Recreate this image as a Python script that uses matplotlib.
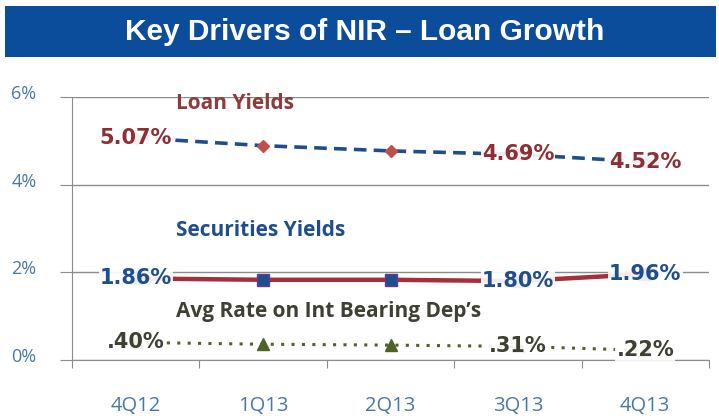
import matplotlib
matplotlib.use("Agg")
import matplotlib.pyplot as plt
from matplotlib.patches import Rectangle
from matplotlib.transforms import ScaledTranslation

# --- data ------------------------------------------------------------------
quarters = ["4Q12", "1Q13", "2Q13", "3Q13", "4Q13"]
loan_yields = [5.07, 4.89, 4.77, 4.69, 4.52]
securities_yields = [1.86, 1.83, 1.83, 1.80, 1.96]
deposit_rates = [0.40, 0.36, 0.34, 0.31, 0.22]

loan_labels = {0: "5.07%", 3: "4.69%", 4: "4.52%"}
securities_labels = {0: "1.86%", 3: "1.80%", 4: "1.96%"}
deposit_labels = {0: ".40%", 3: ".31%", 4: ".22%"}

yticks = [0, 2, 4, 6]
ytick_labels = ["0%", "2%", "4%", "6%"]

# --- palette ---------------------------------------------------------------
BANNER = "#0b4d9a"
NAVY = "#1f4e8c"
BRICK = "#a3303a"
DIAMOND = "#c0504d"
OLIVE = "#4f6228"
GRID = "#8c8c8c"
TICK_TEXT = "#4a78a6"
DEP_TEXT = "#3f3f34"

W, H = 719, 420
fig = plt.figure(figsize=(W / 100, H / 100), dpi=100)
fig.patch.set_facecolor("white")

# title banner
fig.patches.append(Rectangle((5 / W, 1 - 57 / H), 711 / W, 51 / H,
                             transform=fig.transFigure, facecolor=BANNER,
                             edgecolor="none", zorder=0))
fig.text(365 / W, 1 - 32 / H, "Key Drivers of NIR \u2013 Loan Growth",
         ha="center", va="center", color="white", fontsize=21.5,
         fontweight="bold", family=["Liberation Sans", "DejaVu Sans"])

ax = fig.add_axes([72 / W, 60 / H, (709 - 72) / W, (360 - 97) / H])
xs = [i + 0.5 for i in range(len(quarters))]
ax.set_xlim(0, len(quarters))
ax.set_ylim(0, 6)

ax.plot(xs, loan_yields, color=NAVY, linewidth=2.6, linestyle=(0, (3.5, 2)),
        marker="D", markersize=6.5, markerfacecolor=DIAMOND,
        markeredgecolor=DIAMOND, zorder=3)
ax.plot(xs, securities_yields, color=BRICK, linewidth=3.2,
        marker="s", markersize=9, markerfacecolor=NAVY,
        markeredgecolor="#6a3a8a", markeredgewidth=1, zorder=3)
ax.plot(xs, deposit_rates, color=OLIVE, linewidth=2.2, linestyle=(0, (1, 2.4)),
        marker="^", markersize=8, markerfacecolor=OLIVE,
        markeredgecolor=OLIVE, zorder=3)

label_box = dict(boxstyle="square,pad=0.05", facecolor="white",
                 edgecolor="none", alpha=0.9)
for series, labels, color in [(loan_yields, loan_labels, "#8e2f33"),
                              (securities_yields, securities_labels, NAVY),
                              (deposit_rates, deposit_labels, DEP_TEXT)]:
    for i, text in labels.items():
        ax.text(xs[i], series[i], text, ha="center", va="center",
                color=color, fontsize=15, fontweight="bold",
                bbox=label_box, zorder=4)

# series names
name_font = dict(fontsize=15, fontweight="bold",
                 family=["Open Sans", "DejaVu Sans"],
                 ha="left", va="center", zorder=4)
ax.text(0.82, 5.85, "Loan Yields", color="#8e3b3b", **name_font)
ax.text(0.82, 2.95, "Securities Yields", color=NAVY, **name_font)
ax.text(0.82, 1.1, "Avg Rate on Int Bearing Dep\u2019s", color=DEP_TEXT,
        **name_font)

# axes styling: grid lines, left axis, outward ticks
for side in ["top", "right"]:
    ax.spines[side].set_visible(False)
ax.spines["left"].set_color(GRID)
ax.spines["bottom"].set_color(GRID)
ax.set_yticks(yticks)
ax.set_yticklabels(ytick_labels)
ax.grid(axis="y", color=GRID, linewidth=1)
ax.set_axisbelow(True)
ax.tick_params(axis="y", length=8.6, color=GRID, pad=17, labelsize=13,
               labelcolor=TICK_TEXT)
ax.set_xticks(range(len(quarters) + 1))
ax.set_xticklabels([])
ax.set_xticks(xs, minor=True)
ax.set_xticklabels(quarters, minor=True)
ax.tick_params(axis="x", which="major", length=6, color=GRID)
ax.tick_params(axis="x", which="minor", length=0, pad=26, labelsize=14.5,
               labelcolor=TICK_TEXT)
for lab in ax.get_yticklabels() + ax.get_xticklabels(minor=True):
    lab.set_fontfamily(["Open Sans", "DejaVu Sans"])
    lab.set_fontweight("normal")
shift = ScaledTranslation(0, 5 / 100, fig.dpi_scale_trans)
for lab in ax.get_yticklabels():
    lab.set_transform(lab.get_transform() + shift)

fig.savefig("out.png", dpi=100)
